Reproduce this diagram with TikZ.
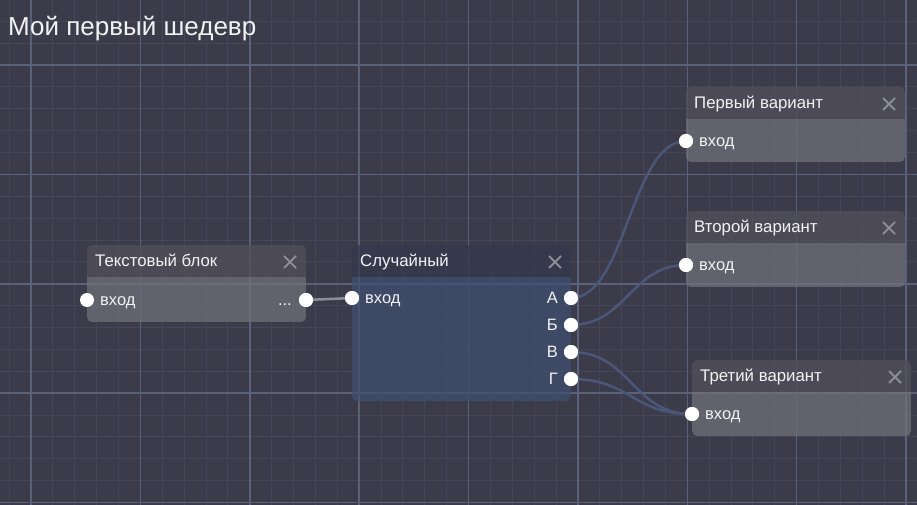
\documentclass[tikz,border=0pt]{standalone}
\usepackage{fontspec}
\setmainfont{Liberation Sans}
\usetikzlibrary{calc}
\definecolor{bg}{HTML}{3C3B4A}
\definecolor{gminor}{HTML}{46465A}
\definecolor{gmajor}{HTML}{59627A}
\definecolor{ghdr}{HTML}{515059}
\definecolor{gbody}{HTML}{70707A}
\definecolor{rhdr}{HTML}{35394E}
\definecolor{rbody}{HTML}{404F6F}
\definecolor{linkc}{HTML}{4A5778}
\definecolor{linkg}{HTML}{8E8E98}
\definecolor{xcol}{HTML}{8C8C96}
\definecolor{txt}{HTML}{F2F2F4}
\tikzset{
  minorline/.style={gminor, line width=1},
  majorline/.style={gmajor, line width=1.5},
  port/.style={circle, fill=white, inner sep=0, minimum size=14},
  hdrtext/.style={font=\fontsize{16.8}{19}\selectfont, text=txt, inner sep=0, anchor=base west},
  porttext/.style={font=\fontsize{16.5}{19}\selectfont, text=txt, inner sep=0},
  link/.style={linkc, line width=2.5},
  closemark/.style={xcol, line width=1.8},
  blockfill/.style={fill opacity=0.75}
}
% block: name, x1, y1, x2, yh, y2, header colour, body colour, title
\newcommand\myblock[9]{%
  \begin{scope}
    \clip[rounded corners=5] (#2,#3) rectangle (#4,#6);
    \fill[#7, blockfill] (#2,#3) rectangle (#4,#5);
    \fill[#8, blockfill] (#2,#5) rectangle (#4,#6);
  \end{scope}
  \node[inner sep=0, anchor=north west, minimum width={(#4-#2)*1pt}, minimum height={(#6-#3)*1pt}] (#1) at (#2,#3) {};
  \node[hdrtext] (#1-title) at (#2+8,#3+21.5) {#9};
  \coordinate (#1-x) at (#4-16,#3+17);
  \draw[closemark] ($(#1-x)+(-6,-6)$) -- ($(#1-x)+(6,6)$);
  \draw[closemark] ($(#1-x)+(-6,6)$) -- ($(#1-x)+(6,-6)$);
}
\begin{document}
\begin{tikzpicture}[x=1pt,y=-1pt]
\useasboundingbox (0,0) rectangle (917,505);
\fill[bg] (0,0) rectangle (917,505);
% grid
\foreach \i in {-1,...,41} { \draw[minorline] ({31+21.875*\i},0) -- ++(0,505); }
\foreach \j in {-3,...,20} { \draw[minorline] (0,{65+21.875*\j}) -- ++(917,0); }
\foreach \i in {0,...,8} { \draw[majorline] ({31+109.375*\i},0) -- ++(0,505); }
\foreach \j in {0,...,4} { \draw[majorline] (0,{65+109.375*\j}) -- ++(917,0); }
% title
\node[font=\fontsize{26}{30}\selectfont, text=txt, inner sep=0, anchor=base west] (maintitle) at (8,36) {Мой первый шедевр};
% blocks
\myblock{tb}{87}{245}{306}{277}{322}{ghdr}{gbody}{Текстовый блок}
\myblock{rnd}{352}{245}{571}{277}{401}{rhdr}{rbody}{Случайный}
\myblock{v1}{686}{87}{905}{119}{162}{ghdr}{gbody}{Первый вариант}
\myblock{v2}{686}{211}{905}{243}{287}{ghdr}{gbody}{Второй вариант}
\myblock{v3}{692}{360}{911}{392}{436}{ghdr}{gbody}{Третий вариант}
% ports
\node[port] (tb-in) at (87,300) {};
\node[port] (tb-out) at (306,300) {};
\node[port] (rnd-in) at (352,298) {};
\node[port] (rnd-a) at (571,298) {};
\node[port] (rnd-b) at (571,325) {};
\node[port] (rnd-c) at (571,352) {};
\node[port] (rnd-d) at (571,379) {};
\node[port] (v1-in) at (686,141) {};
\node[port] (v2-in) at (686,265) {};
\node[port] (v3-in) at (692,414) {};
% port labels
\node[porttext, anchor=base west] (tb-inl) at (100,305.5) {вход};
\node[porttext, anchor=base east] (tb-outl) at (292,305.5) {...};
\node[porttext, anchor=base west] (rnd-inl) at (365,303.5) {вход};
\node[porttext, anchor=base east] (rnd-al) at (558,303.5) {А};
\node[porttext, anchor=base east] (rnd-bl) at (558,330.5) {Б};
\node[porttext, anchor=base east] (rnd-cl) at (558,357.5) {В};
\node[porttext, anchor=base east] (rnd-dl) at (558,384.5) {Г};
\node[porttext, anchor=base west] (v1-inl) at (699,146.5) {вход};
\node[porttext, anchor=base west] (v2-inl) at (699,270.5) {вход};
\node[porttext, anchor=base west] (v3-inl) at (705,419.5) {вход};
% connectors
\draw[linkg, line width=2.5] (tb-out.center) -- (rnd-in.center);
\draw[link] (rnd-a.center) .. controls +(55,0) and +(-55,0) .. (v1-in.center);
\draw[link] (rnd-b.center) .. controls +(55,0) and +(-55,0) .. (v2-in.center);
\draw[link] (rnd-c.center) .. controls +(60,0) and +(-60,0) .. (v3-in.center);
\draw[link] (rnd-d.center) .. controls +(60,0) and +(-60,0) .. (v3-in.center);
% ports on top of connectors
\foreach \p in {tb-out,rnd-in,rnd-a,rnd-b,rnd-c,rnd-d,v1-in,v2-in,v3-in} { \fill[white] (\p.center) circle (7); }
\end{tikzpicture}
\end{document}
